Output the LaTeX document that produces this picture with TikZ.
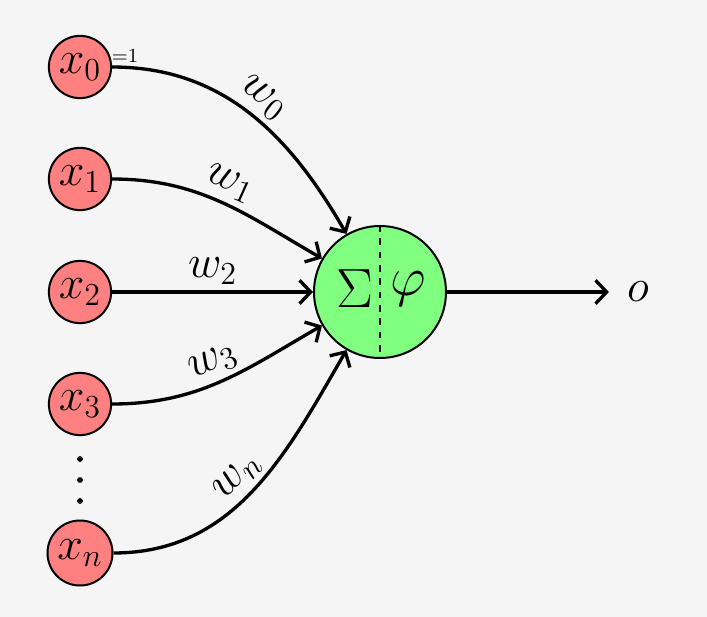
\documentclass[tikz,border=0pt]{standalone}
\usetikzlibrary{arrows.meta}
\definecolor{bgc}{RGB}{245,245,245}
\definecolor{inred}{RGB}{255,128,128}
\definecolor{ngreen}{RGB}{128,255,128}
\begin{document}
\begin{tikzpicture}[x=0.45pt,y=-0.45pt,
  inp/.style={circle,draw,line width=0.9pt,fill=inred,inner sep=2pt,font=\fontsize{22}{26}\selectfont},
  neur/.style={circle,draw,line width=0.9pt,fill=ngreen,minimum size=59.4pt,inner sep=0pt},
  conn/.style={-{Straight Barb[length=5pt,width=10.5pt]},line width=1.5pt},
  wlab/.style={font=\fontsize{22}{26}\selectfont,sloped,above,midway,inner sep=2.5pt},
  ntext/.style={font=\Huge,inner sep=0pt}]
\fill[bgc] (0,0) rectangle (707,617);
\useasboundingbox (0,0) rectangle (707,617);
\node[inp] (x0) at (80,67) {$x_0$};
\node[inp] (x1) at (80,179) {$x_1$};
\node[inp] (x2) at (80,292) {$x_2$};
\node[inp] (x3) at (80,404) {$x_3$};
\node[inp] (xn) at (80,553) {$x_n$};
\node[font=\fontsize{9.5}{11}\selectfont,inner sep=0pt] (eq1) at (125,56) {${=}1$};
\fill (80,459) circle (1.3pt) (80,480) circle (1.3pt) (80,501) circle (1.3pt);
\node[neur] (n) at (380,292) {};
\draw[line width=0.8pt,dashed] (n.north) -- (n.south);
\node[ntext] (sig) at (355,289) {$\Sigma$};
\node[ntext] (phi) at (408,289) {$\varphi$};
\node[font=\fontsize{22}{26}\selectfont,inner sep=8pt] (o) at (638,292) {$o$};
\draw[conn] (x0) to[out=0,in=120] node[wlab] {$w_0$} (n.120);
\draw[conn] (x1) to[out=0,in=150] node[wlab] {$w_1$} (n.150);
\draw[conn] (x2) to node[wlab] {$w_2$} (n.180);
\draw[conn] (x3) to[out=0,in=210] node[wlab] {$w_3$} (n.210);
\draw[conn] (xn) to[out=0,in=240] node[wlab] {$w_n$} (n.240);
\draw[conn] (n) -- (o);
\end{tikzpicture}
\end{document}
